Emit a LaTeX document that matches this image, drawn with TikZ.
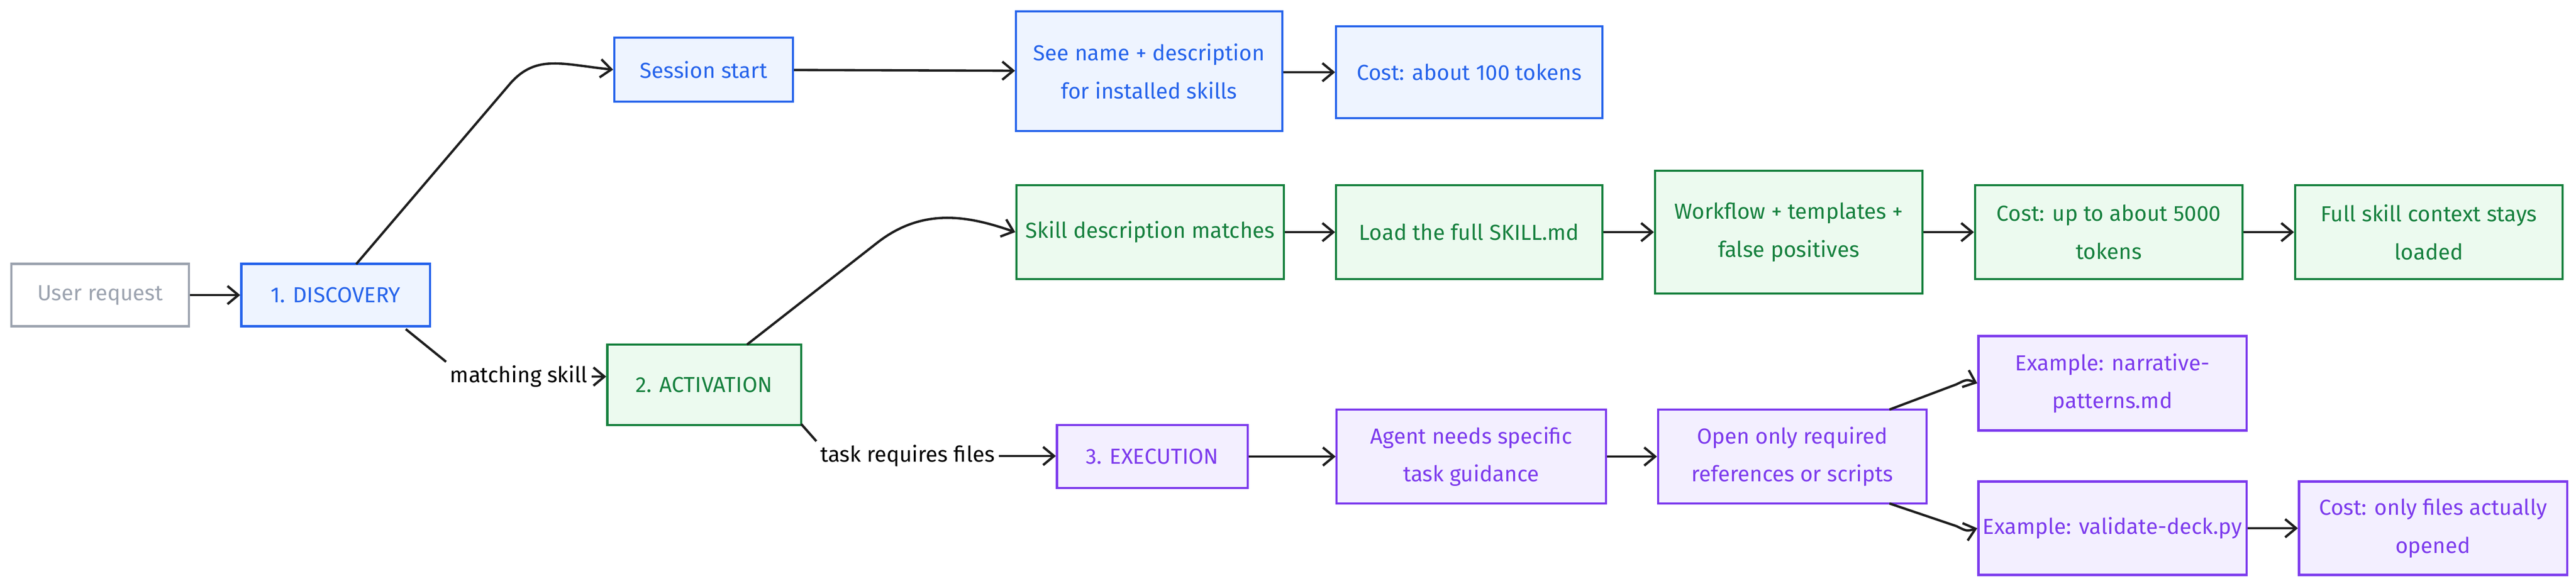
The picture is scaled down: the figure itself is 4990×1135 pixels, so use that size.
\documentclass[tikz,border=0pt]{standalone}
\usepackage{fontspec}
\setmainfont{Fira Sans}
\usetikzlibrary{arrows.meta}
\definecolor{bl}{HTML}{2563EB}\definecolor{blf}{HTML}{EEF4FF}
\definecolor{gr}{HTML}{15803D}\definecolor{grf}{HTML}{ECFAEF}
\definecolor{pu}{HTML}{7C3AED}\definecolor{puf}{HTML}{F3EFFF}
\definecolor{gy}{HTML}{9CA3AF}\definecolor{ln}{HTML}{1E1E1E}
\begin{document}
\begin{tikzpicture}[x=0.01cm,y=-0.01cm,
 box/.style={draw,line width=1.2pt,align=center,inner sep=0pt,font=\fontsize{12}{21}\selectfont},
 blue/.style={box,draw=bl,fill=blf,text=bl},
 green/.style={box,draw=gr,fill=grf,text=gr},
 purple/.style={box,draw=pu,fill=puf,text=pu},
 gray/.style={box,draw=gy,fill=white,text=gy},
 arr/.style={draw=ln,line width=1.3pt,-{Straight Barb[length=6pt,width=10pt]}},
 ln/.style={draw=ln,line width=1.3pt},
 lab/.style={font=\fontsize{12}{15}\selectfont,text=black,inner sep=2pt}]
\useasboundingbox (0,0) rectangle (4990,1135);
\node[gray,minimum width=3.44cm,minimum height=1.21cm] (user) at (194,572) {User request};
\node[blue,minimum width=3.65cm,minimum height=1.21cm] (disc) at (650,572) {1. DISCOVERY};
\node[blue,minimum width=3.46cm,minimum height=1.24cm] (sess) at (1363,135) {Session start};
\node[blue,minimum width=5.15cm,minimum height=2.32cm] (see) at (2226,138) {See name + description\\for installed skills};
\node[blue,minimum width=5.15cm,minimum height=1.78cm] (cost1) at (2846,140) {Cost: about 100 tokens};
\node[green,minimum width=5.18cm,minimum height=1.82cm] (skill) at (2228,450) {Skill description matches};
\node[green,minimum width=5.15cm,minimum height=1.82cm] (load) at (2846,450) {Load the full SKILL.md};
\node[green,minimum width=5.18cm,minimum height=2.38cm] (work) at (3465,450) {Workflow + templates +\\false positives};
\node[green,minimum width=5.18cm,minimum height=1.82cm] (cost2) at (4085,450) {Cost: up to about 5000\\tokens};
\node[green,minimum width=5.18cm,minimum height=1.82cm] (full) at (4705,450) {Full skill context stays\\loaded};
\node[green,minimum width=3.75cm,minimum height=1.56cm] (act) at (1364,746) {2. ACTIVATION};
\node[purple,minimum width=3.69cm,minimum height=1.22cm] (exec) at (2232,885) {3. EXECUTION};
\node[purple,minimum width=5.21cm,minimum height=1.82cm] (agent) at (2850,885) {Agent needs specific\\task guidance};
\node[purple,minimum width=5.2cm,minimum height=1.82cm] (open) at (3472,885) {Open only required\\references or scripts};
\node[purple,minimum width=5.19cm,minimum height=1.83cm] (narr) at (4092,743) {Example: narrative-\\patterns.md};
\node[purple,minimum width=5.19cm,minimum height=1.81cm] (valid) at (4092,1024) {Example: validate-deck.py};
\node[purple,minimum width=5.19cm,minimum height=1.81cm] (costf) at (4713,1024) {Cost: only files actually\\opened};
\node[lab] (l1) at (1005,730) {matching skill};
\node[lab] (l2) at (1758,884) {task requires files};
\coordinate (d1) at (690,512);\coordinate (a1) at (1447,668);
\coordinate (d2) at (786,638);\coordinate (a2) at (1552,822);
\coordinate (o1) at (3660,794);\coordinate (o2) at (3660,976);
\path[arr] (user) -- (disc);
\path[arr] (d1) -- (990,160) .. controls (1040,105) and (1090,125) .. (sess.west);
\path[arr] (sess) -- (see);
\path[arr] (see.east |- cost1) -- (cost1);
\path[arr] (a1) -- (1700,470) .. controls (1790,400) and (1880,420) .. (skill.west);
\path[arr] (skill) -- (load);
\path[arr] (load) -- (work);
\path[arr] (work) -- (cost2);
\path[arr] (cost2) -- (full);
\path[ln] (d2) -- (l1.north west);
\path[arr] (l1.east) -- (act.west |- l1);
\path[ln] (a2) -- (l2.north west);
\path[arr] (l2.east) -- (exec.west |- l2);
\path[arr] (exec) -- (agent);
\path[arr] (agent) -- (open);
\path[arr] (o1) -- (3790,745) .. controls (3810,735) .. (narr.west);
\path[arr] (o2) -- (3790,1020) .. controls (3810,1030) .. (valid.west);
\path[arr] (valid) -- (costf);
\end{tikzpicture}
\end{document}
